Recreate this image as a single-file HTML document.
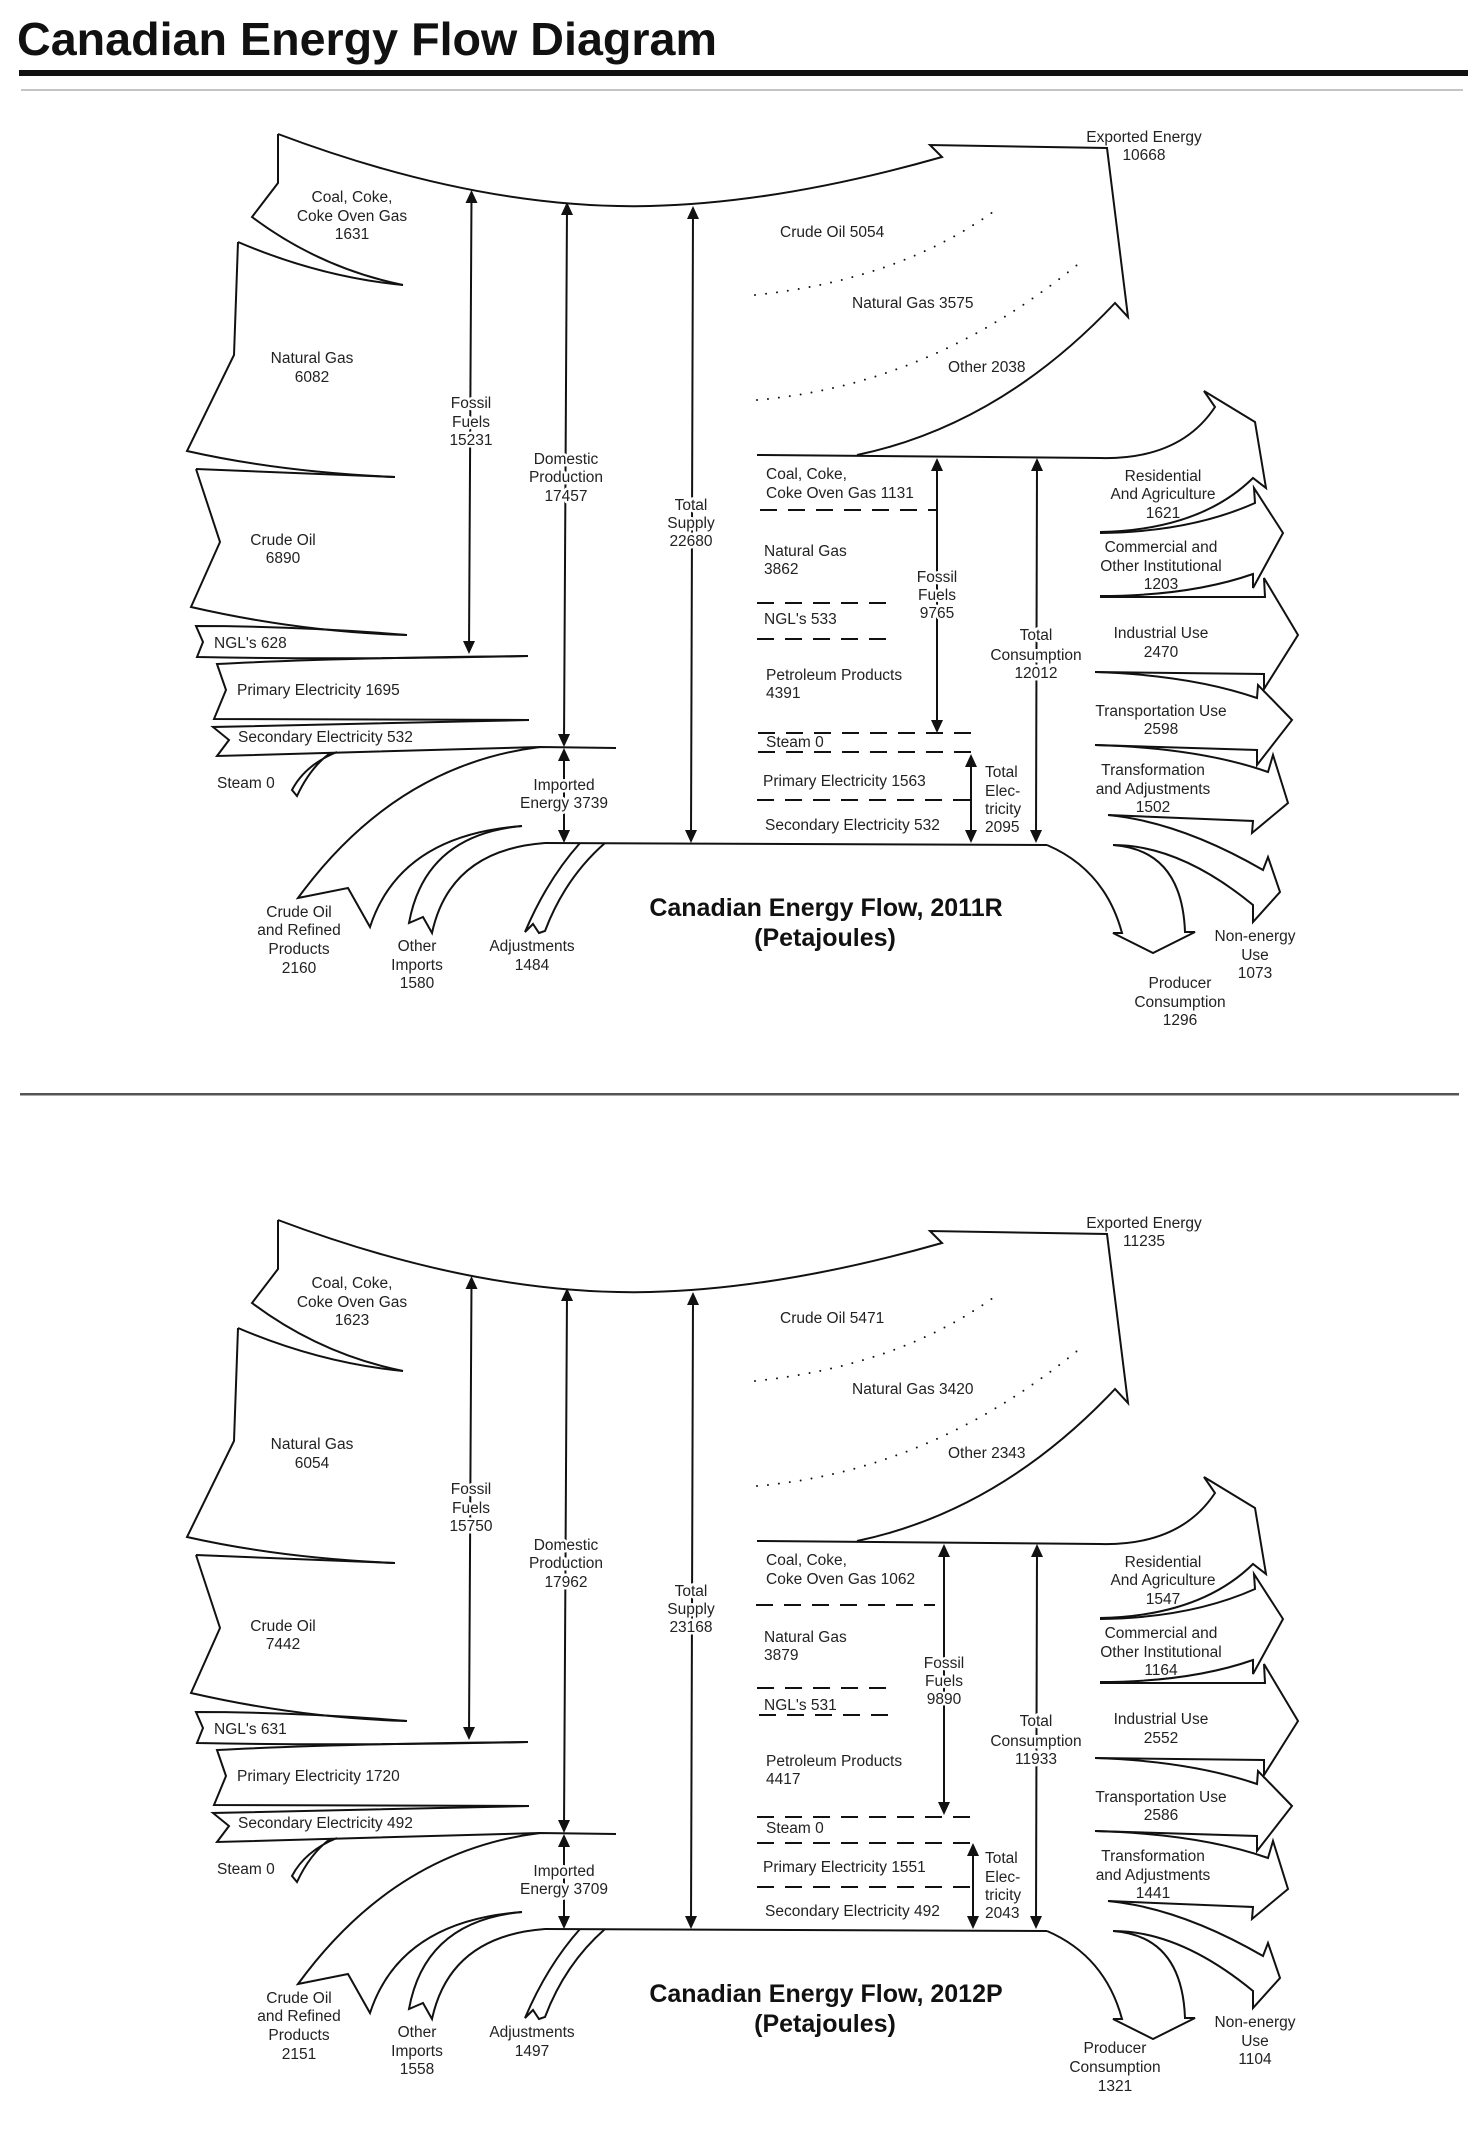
<!DOCTYPE html>
<html>
<head>
<meta charset="utf-8">
<style>
  html, body { margin: 0; padding: 0; background: #fff; }
  svg { display: block; }
  .t { font-family: "Liberation Sans", Arial, sans-serif; font-size: 15.5px; fill: #222; }
  .m { text-anchor: middle; }
  .bg { paint-order: stroke; stroke: #fff; stroke-width: 5px; stroke-linejoin: round; }
  .h { font-family: "Liberation Sans", Arial, sans-serif; font-weight: bold; fill: #111; }
  .s path, .s line { fill: none; stroke: #111; stroke-width: 2; stroke-linejoin: miter; }
  .ah { fill: #111; stroke: none; }
  .dot { fill: none; stroke: #222; stroke-width: 2.6; stroke-dasharray: 0 11; stroke-linecap: round; }
  .dash { fill: none; stroke: #111; stroke-width: 2; stroke-dasharray: 17 11; }
</style>
</head>
<body>
<svg width="1482" height="2139" viewBox="0 0 1482 2139" xmlns="http://www.w3.org/2000/svg">
  <rect x="0" y="0" width="1482" height="2139" fill="#fff"/>

  <!-- Header -->
  <text class="h" x="17" y="55" font-size="46" textLength="700" lengthAdjust="spacingAndGlyphs">Canadian Energy Flow Diagram</text>
  <rect x="19" y="70" width="1449" height="6" fill="#111"/>
  <rect x="21" y="89" width="1442" height="2" fill="#c4c4c4"/>
  <!-- Divider -->
  <rect x="20" y="1093" width="1439" height="2.5" fill="#555"/>

  <defs>
    <g id="d" class="s">
      <!-- Exported band -->
      <path d="M278,134 Q480,210 650,206 Q780,203 942,157 L930,145 L1107,148 L1128,317 L1115,303 Q1000,425 857,455"/>
      <!-- Coal -->
      <path d="M278,134 L278,183 L252,217 Q320,268 403,285"/>
      <!-- Natural gas -->
      <path d="M238,242 Q320,277 403,285 M238,242 L234,355 L187,451 Q280,472 395,477"/>
      <!-- Crude oil -->
      <path d="M196,469 L395,477 M196,469 L220,542 L191,607 Q300,632 407,635"/>
      <!-- NGL -->
      <path d="M407,635 Q300,626 196,626 L203,642 L197,657 Q360,660 528,656"/>
      <!-- Primary electricity -->
      <path d="M528,656 Q330,658 217,664 L226,690 L214,719 L529,720"/>
      <!-- Secondary electricity -->
      <path d="M529,720 L213,727 L229,740 L217,756 Q370,752 540,747 L616,748"/>
      <!-- Steam -->
      <path d="M337,752 Q305,765 292,790 L297,796 Q310,768 330,753"/>
      <!-- Crude oil imports -->
      <path d="M540,747 Q395,765 298,898 L348,888 L370,927 Q400,835 522,826"/>
      <!-- Other imports -->
      <path d="M522,826 Q425,835 409,923 L423,917 L432,933 Q450,850 545,843"/>
      <!-- Adjustments -->
      <path d="M580,843 Q547,880 525,932 L533,924 L539,933 L545,931 Q565,878 605,843"/>
      <!-- Bottom line -->
      <path d="M545,843 L1047,845"/>
      <!-- Top consumption line -->
      <path d="M757,455 L1100,458"/>
      <!-- Residential -->
      <path d="M1100,458 Q1180,460 1215,407 L1204,391 L1255,422 L1266,488 L1253,478 Q1200,530 1100,532"/>
      <!-- Commercial -->
      <path d="M1100,533 Q1190,532 1255,503 L1254,488 L1283,533 L1253,588 L1253,574 Q1190,596 1100,596"/>
      <!-- Industrial -->
      <path d="M1100,597 L1265,597 L1264,578 L1298,635 L1264,689 L1264,674 L1095,672"/>
      <!-- Transportation -->
      <path d="M1095,672 Q1190,675 1257,698 L1258,685 L1292,720 L1257,765 L1257,750 L1095,745"/>
      <!-- Transformation -->
      <path d="M1095,745 Q1200,748 1268,772 L1273,755 L1288,803 L1252,833 L1253,821 L1108,815"/>
      <!-- Non-energy -->
      <path d="M1108,815 Q1180,822 1263,870 L1268,857 L1280,892 L1253,922 L1253,905 Q1180,845 1113,845"/>
      <!-- Producer -->
      <path d="M1047,845 Q1105,870 1122,933 L1113,933 L1153,953 L1195,932 L1185,932 Q1182,850 1113,845"/>
      <!-- Dotted separators in exported band -->
      <path class="dot" d="M755,295 Q900,280 997,209"/>
      <path class="dot" d="M757,400 Q930,385 1077,265"/>

      <!-- Arrows: fossil (left) -->
      <line x1="471.5" y1="195" x2="469" y2="650"/>
      <polygon class="ah" points="471.5,190 465.5,203 477.5,203"/>
      <polygon class="ah" points="469,654 463,641 475,641"/>
      <!-- Domestic production -->
      <line x1="567" y1="207" x2="564" y2="743"/>
      <polygon class="ah" points="567,202 561,215 573,215"/>
      <polygon class="ah" points="564,747 558,734 570,734"/>
      <!-- Imported -->
      <line x1="564" y1="752" x2="564" y2="839"/>
      <polygon class="ah" points="564,748 558,761 570,761"/>
      <polygon class="ah" points="564,843 558,830 570,830"/>
      <!-- Total supply -->
      <line x1="693" y1="210" x2="691" y2="839"/>
      <polygon class="ah" points="693,206 687,219 699,219"/>
      <polygon class="ah" points="691,843 685,830 697,830"/>
      <!-- Total consumption -->
      <line x1="1037" y1="462" x2="1036" y2="839"/>
      <polygon class="ah" points="1037,458 1031,471 1043,471"/>
      <polygon class="ah" points="1036,843 1030,830 1042,830"/>
    </g>
  </defs>

  <use href="#d"/>
  <use href="#d" y="1086"/>

  <!-- ===== Top diagram specific ===== -->
  <g class="s">
    <line x1="937" y1="462" x2="937" y2="729"/>
    <polygon class="ah" points="937,458 931,471 943,471"/>
    <polygon class="ah" points="937,733 931,720 943,720"/>
    <line x1="971" y1="758" x2="971" y2="839"/>
    <polygon class="ah" points="971,754 965,767 977,767"/>
    <polygon class="ah" points="971,843 965,830 977,830"/>
    <path class="dash" d="M760,510 L937,510"/>
    <path class="dash" d="M757,603 L887,603"/>
    <path class="dash" d="M757,639 L887,639"/>
    <path class="dash" d="M758,733 L972,733"/>
    <path class="dash" d="M758,752 L972,752"/>
    <path class="dash" d="M757,800 L970,800"/>
  </g>

  <!-- ===== Bottom diagram specific ===== -->
  <g class="s">
    <line x1="944" y1="1548" x2="944" y2="1811"/>
    <polygon class="ah" points="944,1544 938,1557 950,1557"/>
    <polygon class="ah" points="944,1815 938,1802 950,1802"/>
    <line x1="973" y1="1847" x2="973" y2="1925"/>
    <polygon class="ah" points="973,1843 967,1856 979,1856"/>
    <polygon class="ah" points="973,1929 967,1916 979,1916"/>
    <path class="dash" d="M756,1605 L935,1605"/>
    <path class="dash" d="M757,1688 L888,1688"/>
    <path class="dash" d="M759,1715 L890,1715"/>
    <path class="dash" d="M757,1817 L972,1817"/>
    <path class="dash" d="M757,1843 L973,1843"/>
    <path class="dash" d="M757,1887 L973,1887"/>
  </g>

  <!-- ===== Top labels ===== -->
  <g class="t">
    <text class="m" x="1144" y="142">Exported Energy</text>
    <text class="m" x="1144" y="160">10668</text>

    <text class="m" x="352" y="202">Coal, Coke,</text>
    <text class="m" x="352" y="221">Coke Oven Gas</text>
    <text class="m" x="352" y="239">1631</text>

    <text class="m" x="312" y="363">Natural Gas</text>
    <text class="m" x="312" y="382">6082</text>

    <text class="m bg" x="471" y="408">Fossil</text>
    <text class="m bg" x="471" y="427">Fuels</text>
    <text class="m bg" x="471" y="445">15231</text>

    <text class="m bg" x="566" y="464">Domestic</text>
    <text class="m bg" x="566" y="482">Production</text>
    <text class="m bg" x="566" y="501">17457</text>

    <text class="m" x="283" y="545">Crude Oil</text>
    <text class="m" x="283" y="563">6890</text>

    <text x="214" y="648">NGL's 628</text>
    <text x="237" y="695">Primary Electricity 1695</text>
    <text x="238" y="742">Secondary Electricity 532</text>
    <text x="217" y="788">Steam 0</text>

    <text class="m bg" x="564" y="790">Imported</text>
    <text class="m bg" x="564" y="808">Energy 3739</text>

    <text class="m" x="299" y="917">Crude Oil</text>
    <text class="m" x="299" y="935">and Refined</text>
    <text class="m" x="299" y="954">Products</text>
    <text class="m" x="299" y="973">2160</text>

    <text class="m" x="417" y="951">Other</text>
    <text class="m" x="417" y="970">Imports</text>
    <text class="m" x="417" y="988">1580</text>

    <text class="m" x="532" y="951">Adjustments</text>
    <text class="m" x="532" y="970">1484</text>

    <text class="m bg" x="691" y="510">Total</text>
    <text class="m bg" x="691" y="528">Supply</text>
    <text class="m bg" x="691" y="546">22680</text>

    <text x="780" y="237">Crude Oil 5054</text>
    <text x="852" y="308">Natural Gas 3575</text>
    <text x="948" y="372">Other 2038</text>

    <text x="766" y="479">Coal, Coke,</text>
    <text x="766" y="498">Coke Oven Gas 1131</text>
    <text x="764" y="556">Natural Gas</text>
    <text x="764" y="574">3862</text>
    <text x="764" y="624">NGL's 533</text>
    <text x="766" y="680">Petroleum Products</text>
    <text x="766" y="698">4391</text>
    <text x="766" y="747">Steam 0</text>
    <text x="763" y="786">Primary Electricity 1563</text>
    <text x="765" y="830">Secondary Electricity 532</text>

    <text class="m bg" x="937" y="582">Fossil</text>
    <text class="m bg" x="937" y="600">Fuels</text>
    <text class="m bg" x="937" y="618">9765</text>

    <text class="m bg" x="1036" y="640">Total</text>
    <text class="m bg" x="1036" y="660">Consumption</text>
    <text class="m bg" x="1036" y="678">12012</text>

    <text x="985" y="777">Total</text>
    <text x="985" y="796">Elec-</text>
    <text x="985" y="814">tricity</text>
    <text x="985" y="832">2095</text>

    <text class="m" x="1163" y="481">Residential</text>
    <text class="m" x="1163" y="499">And Agriculture</text>
    <text class="m" x="1163" y="518">1621</text>

    <text class="m" x="1161" y="552">Commercial and</text>
    <text class="m" x="1161" y="571">Other Institutional</text>
    <text class="m" x="1161" y="589">1203</text>

    <text class="m" x="1161" y="638">Industrial Use</text>
    <text class="m" x="1161" y="657">2470</text>

    <text class="m" x="1161" y="716">Transportation Use</text>
    <text class="m" x="1161" y="734">2598</text>

    <text class="m" x="1153" y="775">Transformation</text>
    <text class="m" x="1153" y="794">and Adjustments</text>
    <text class="m" x="1153" y="812">1502</text>

    <text class="m" x="1255" y="941">Non-energy</text>
    <text class="m" x="1255" y="960">Use</text>
    <text class="m" x="1255" y="978">1073</text>

    <text class="m" x="1180" y="988">Producer</text>
    <text class="m" x="1180" y="1007">Consumption</text>
    <text class="m" x="1180" y="1025">1296</text>
  </g>
  <text class="h m" x="826" y="916" font-size="25">Canadian Energy Flow, 2011R</text>
  <text class="h m" x="825" y="946" font-size="25">(Petajoules)</text>

  <!-- ===== Bottom labels ===== -->
  <g class="t">
    <text class="m" x="1144" y="1228">Exported Energy</text>
    <text class="m" x="1144" y="1246">11235</text>

    <text class="m" x="352" y="1288">Coal, Coke,</text>
    <text class="m" x="352" y="1307">Coke Oven Gas</text>
    <text class="m" x="352" y="1325">1623</text>

    <text class="m" x="312" y="1449">Natural Gas</text>
    <text class="m" x="312" y="1468">6054</text>

    <text class="m bg" x="471" y="1494">Fossil</text>
    <text class="m bg" x="471" y="1513">Fuels</text>
    <text class="m bg" x="471" y="1531">15750</text>

    <text class="m bg" x="566" y="1550">Domestic</text>
    <text class="m bg" x="566" y="1568">Production</text>
    <text class="m bg" x="566" y="1587">17962</text>

    <text class="m" x="283" y="1631">Crude Oil</text>
    <text class="m" x="283" y="1649">7442</text>

    <text x="214" y="1734">NGL's 631</text>
    <text x="237" y="1781">Primary Electricity 1720</text>
    <text x="238" y="1828">Secondary Electricity 492</text>
    <text x="217" y="1874">Steam 0</text>

    <text class="m bg" x="564" y="1876">Imported</text>
    <text class="m bg" x="564" y="1894">Energy 3709</text>

    <text class="m" x="299" y="2003">Crude Oil</text>
    <text class="m" x="299" y="2021">and Refined</text>
    <text class="m" x="299" y="2040">Products</text>
    <text class="m" x="299" y="2059">2151</text>

    <text class="m" x="417" y="2037">Other</text>
    <text class="m" x="417" y="2056">Imports</text>
    <text class="m" x="417" y="2074">1558</text>

    <text class="m" x="532" y="2037">Adjustments</text>
    <text class="m" x="532" y="2056">1497</text>

    <text class="m bg" x="691" y="1596">Total</text>
    <text class="m bg" x="691" y="1614">Supply</text>
    <text class="m bg" x="691" y="1632">23168</text>

    <text x="780" y="1323">Crude Oil 5471</text>
    <text x="852" y="1394">Natural Gas 3420</text>
    <text x="948" y="1458">Other 2343</text>

    <text x="766" y="1565">Coal, Coke,</text>
    <text x="766" y="1584">Coke Oven Gas 1062</text>
    <text x="764" y="1642">Natural Gas</text>
    <text x="764" y="1660">3879</text>
    <text x="764" y="1710">NGL's 531</text>
    <text x="766" y="1766">Petroleum Products</text>
    <text x="766" y="1784">4417</text>
    <text x="766" y="1833">Steam 0</text>
    <text x="763" y="1872">Primary Electricity 1551</text>
    <text x="765" y="1916">Secondary Electricity 492</text>

    <text class="m bg" x="944" y="1668">Fossil</text>
    <text class="m bg" x="944" y="1686">Fuels</text>
    <text class="m bg" x="944" y="1704">9890</text>

    <text class="m bg" x="1036" y="1726">Total</text>
    <text class="m bg" x="1036" y="1746">Consumption</text>
    <text class="m bg" x="1036" y="1764">11933</text>

    <text x="985" y="1863">Total</text>
    <text x="985" y="1882">Elec-</text>
    <text x="985" y="1900">tricity</text>
    <text x="985" y="1918">2043</text>

    <text class="m" x="1163" y="1567">Residential</text>
    <text class="m" x="1163" y="1585">And Agriculture</text>
    <text class="m" x="1163" y="1604">1547</text>

    <text class="m" x="1161" y="1638">Commercial and</text>
    <text class="m" x="1161" y="1657">Other Institutional</text>
    <text class="m" x="1161" y="1675">1164</text>

    <text class="m" x="1161" y="1724">Industrial Use</text>
    <text class="m" x="1161" y="1743">2552</text>

    <text class="m" x="1161" y="1802">Transportation Use</text>
    <text class="m" x="1161" y="1820">2586</text>

    <text class="m" x="1153" y="1861">Transformation</text>
    <text class="m" x="1153" y="1880">and Adjustments</text>
    <text class="m" x="1153" y="1898">1441</text>

    <text class="m" x="1255" y="2027">Non-energy</text>
    <text class="m" x="1255" y="2046">Use</text>
    <text class="m" x="1255" y="2064">1104</text>

    <text class="m" x="1115" y="2053">Producer</text>
    <text class="m" x="1115" y="2072">Consumption</text>
    <text class="m" x="1115" y="2091">1321</text>
  </g>
  <text class="h m" x="826" y="2002" font-size="25">Canadian Energy Flow, 2012P</text>
  <text class="h m" x="825" y="2032" font-size="25">(Petajoules)</text>
</svg>
</body>
</html>
